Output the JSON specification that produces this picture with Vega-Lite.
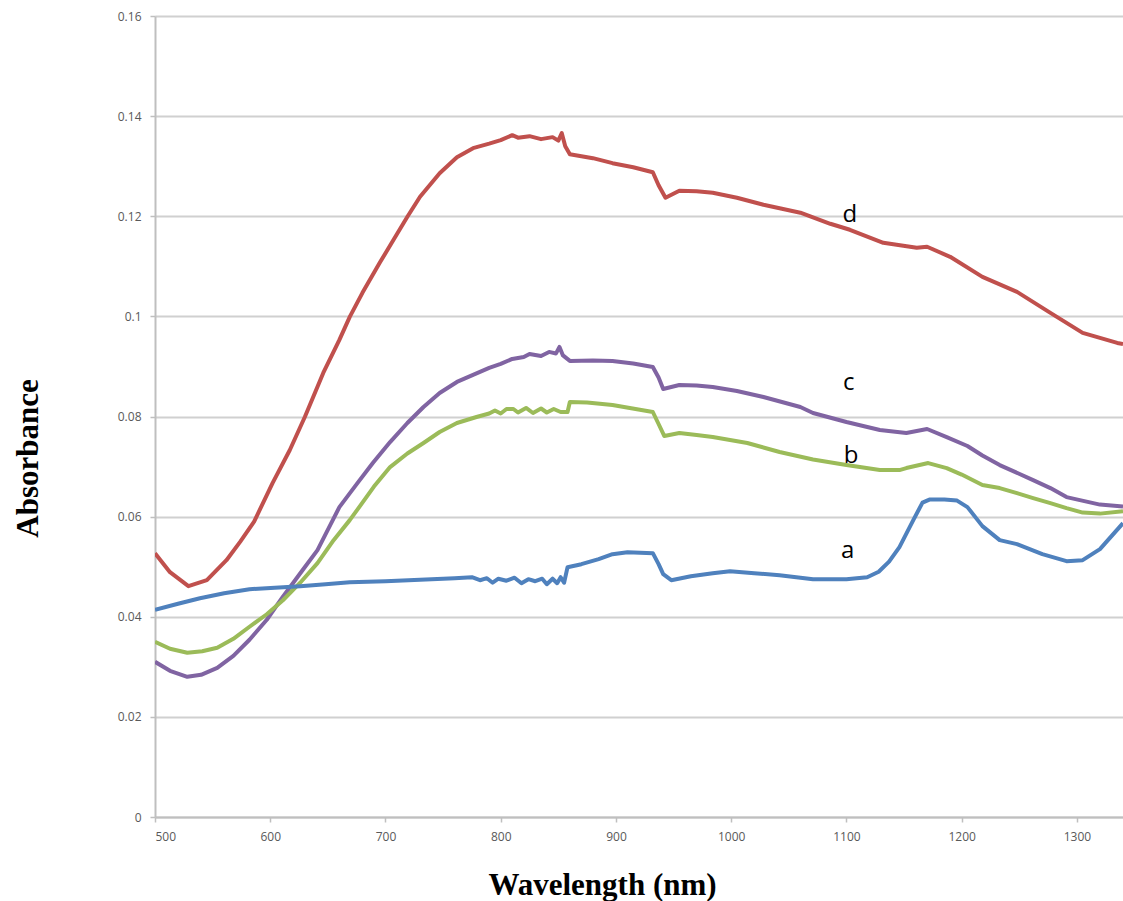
{
  "$schema": "https://vega.github.io/schema/vega-lite/v6.json",
  "width": 968,
  "height": 801,
  "autosize": {"type": "none"},
  "padding": {"left": 155, "top": 16, "right": 0, "bottom": 84},
  "background": "white",
  "config": {"view": {"stroke": null}},
  "datasets": {
    "curves": [
      {"s": "d", "wl": 500, "abs": 0.0527}, {"s": "d", "wl": 513, "abs": 0.0489}, {"s": "d", "wl": 529, "abs": 0.0461}, {"s": "d", "wl": 545, "abs": 0.0473}, {"s": "d", "wl": 562, "abs": 0.0513}, {"s": "d", "wl": 574, "abs": 0.055}, {"s": "d", "wl": 586, "abs": 0.059}, {"s": "d", "wl": 602, "abs": 0.0667}, {"s": "d", "wl": 617, "abs": 0.0733}, {"s": "d", "wl": 630, "abs": 0.0799}, {"s": "d", "wl": 646, "abs": 0.0887}, {"s": "d", "wl": 660, "abs": 0.0953}, {"s": "d", "wl": 669, "abs": 0.0999}, {"s": "d", "wl": 680, "abs": 0.1047}, {"s": "d", "wl": 695, "abs": 0.1107}, {"s": "d", "wl": 707, "abs": 0.1153}, {"s": "d", "wl": 719, "abs": 0.1199}, {"s": "d", "wl": 730, "abs": 0.1239}, {"s": "d", "wl": 747, "abs": 0.1286}, {"s": "d", "wl": 762, "abs": 0.1318}, {"s": "d", "wl": 776, "abs": 0.1336}, {"s": "d", "wl": 790, "abs": 0.1345}, {"s": "d", "wl": 800, "abs": 0.1352}, {"s": "d", "wl": 810, "abs": 0.1362}, {"s": "d", "wl": 815, "abs": 0.1357}, {"s": "d", "wl": 825, "abs": 0.136}, {"s": "d", "wl": 835, "abs": 0.1354}, {"s": "d", "wl": 845, "abs": 0.1358}, {"s": "d", "wl": 850, "abs": 0.1351}, {"s": "d", "wl": 853, "abs": 0.1366}, {"s": "d", "wl": 856, "abs": 0.134}, {"s": "d", "wl": 860, "abs": 0.1324}, {"s": "d", "wl": 880, "abs": 0.1316}, {"s": "d", "wl": 897, "abs": 0.1306}, {"s": "d", "wl": 915, "abs": 0.1298}, {"s": "d", "wl": 932, "abs": 0.1288}, {"s": "d", "wl": 937, "abs": 0.1262}, {"s": "d", "wl": 943, "abs": 0.1237}, {"s": "d", "wl": 955, "abs": 0.1251}, {"s": "d", "wl": 970, "abs": 0.125}, {"s": "d", "wl": 984, "abs": 0.1247}, {"s": "d", "wl": 1005, "abs": 0.1237}, {"s": "d", "wl": 1028, "abs": 0.1223}, {"s": "d", "wl": 1060, "abs": 0.1207}, {"s": "d", "wl": 1086, "abs": 0.1185}, {"s": "d", "wl": 1103, "abs": 0.1173}, {"s": "d", "wl": 1132, "abs": 0.1147}, {"s": "d", "wl": 1161, "abs": 0.1137}, {"s": "d", "wl": 1170, "abs": 0.1139}, {"s": "d", "wl": 1190, "abs": 0.1119}, {"s": "d", "wl": 1218, "abs": 0.1079}, {"s": "d", "wl": 1248, "abs": 0.1049}, {"s": "d", "wl": 1277, "abs": 0.1007}, {"s": "d", "wl": 1305, "abs": 0.0967}, {"s": "d", "wl": 1335, "abs": 0.0947}, {"s": "d", "wl": 1340, "abs": 0.0945},

      {"s": "c", "wl": 500, "abs": 0.031}, {"s": "c", "wl": 513, "abs": 0.0292}, {"s": "c", "wl": 528, "abs": 0.028}, {"s": "c", "wl": 540, "abs": 0.0284}, {"s": "c", "wl": 554, "abs": 0.0298}, {"s": "c", "wl": 568, "abs": 0.0322}, {"s": "c", "wl": 582, "abs": 0.0354}, {"s": "c", "wl": 597, "abs": 0.0394}, {"s": "c", "wl": 611, "abs": 0.044}, {"s": "c", "wl": 628, "abs": 0.0493}, {"s": "c", "wl": 641, "abs": 0.0533}, {"s": "c", "wl": 660, "abs": 0.0619}, {"s": "c", "wl": 675, "abs": 0.0665}, {"s": "c", "wl": 689, "abs": 0.0707}, {"s": "c", "wl": 704, "abs": 0.0749}, {"s": "c", "wl": 719, "abs": 0.0787}, {"s": "c", "wl": 733, "abs": 0.0819}, {"s": "c", "wl": 747, "abs": 0.0847}, {"s": "c", "wl": 762, "abs": 0.0869}, {"s": "c", "wl": 776, "abs": 0.0883}, {"s": "c", "wl": 790, "abs": 0.0897}, {"s": "c", "wl": 800, "abs": 0.0905}, {"s": "c", "wl": 810, "abs": 0.0915}, {"s": "c", "wl": 820, "abs": 0.0919}, {"s": "c", "wl": 825, "abs": 0.0925}, {"s": "c", "wl": 835, "abs": 0.0921}, {"s": "c", "wl": 842, "abs": 0.0929}, {"s": "c", "wl": 848, "abs": 0.0926}, {"s": "c", "wl": 851, "abs": 0.0939}, {"s": "c", "wl": 854, "abs": 0.0922}, {"s": "c", "wl": 860, "abs": 0.0911}, {"s": "c", "wl": 880, "abs": 0.0912}, {"s": "c", "wl": 897, "abs": 0.0911}, {"s": "c", "wl": 915, "abs": 0.0906}, {"s": "c", "wl": 932, "abs": 0.0899}, {"s": "c", "wl": 937, "abs": 0.0878}, {"s": "c", "wl": 941, "abs": 0.0855}, {"s": "c", "wl": 955, "abs": 0.0863}, {"s": "c", "wl": 970, "abs": 0.0862}, {"s": "c", "wl": 984, "abs": 0.0859}, {"s": "c", "wl": 1005, "abs": 0.0851}, {"s": "c", "wl": 1028, "abs": 0.0839}, {"s": "c", "wl": 1060, "abs": 0.0819}, {"s": "c", "wl": 1071, "abs": 0.0807}, {"s": "c", "wl": 1100, "abs": 0.0789}, {"s": "c", "wl": 1129, "abs": 0.0773}, {"s": "c", "wl": 1152, "abs": 0.0767}, {"s": "c", "wl": 1170, "abs": 0.0775}, {"s": "c", "wl": 1187, "abs": 0.0759}, {"s": "c", "wl": 1205, "abs": 0.0741}, {"s": "c", "wl": 1218, "abs": 0.0722}, {"s": "c", "wl": 1233, "abs": 0.0703}, {"s": "c", "wl": 1262, "abs": 0.0673}, {"s": "c", "wl": 1277, "abs": 0.0657}, {"s": "c", "wl": 1291, "abs": 0.0639}, {"s": "c", "wl": 1320, "abs": 0.0624}, {"s": "c", "wl": 1340, "abs": 0.062},

      {"s": "b", "wl": 500, "abs": 0.035}, {"s": "b", "wl": 513, "abs": 0.0336}, {"s": "b", "wl": 528, "abs": 0.0328}, {"s": "b", "wl": 541, "abs": 0.0331}, {"s": "b", "wl": 554, "abs": 0.0338}, {"s": "b", "wl": 568, "abs": 0.0356}, {"s": "b", "wl": 582, "abs": 0.038}, {"s": "b", "wl": 597, "abs": 0.0405}, {"s": "b", "wl": 611, "abs": 0.0433}, {"s": "b", "wl": 626, "abs": 0.0468}, {"s": "b", "wl": 641, "abs": 0.0507}, {"s": "b", "wl": 655, "abs": 0.0553}, {"s": "b", "wl": 669, "abs": 0.0593}, {"s": "b", "wl": 675, "abs": 0.0612}, {"s": "b", "wl": 690, "abs": 0.066}, {"s": "b", "wl": 704, "abs": 0.0699}, {"s": "b", "wl": 719, "abs": 0.0726}, {"s": "b", "wl": 733, "abs": 0.0747}, {"s": "b", "wl": 747, "abs": 0.0769}, {"s": "b", "wl": 762, "abs": 0.0787}, {"s": "b", "wl": 779, "abs": 0.0799}, {"s": "b", "wl": 790, "abs": 0.0806}, {"s": "b", "wl": 795, "abs": 0.0812}, {"s": "b", "wl": 800, "abs": 0.0806}, {"s": "b", "wl": 805, "abs": 0.0815}, {"s": "b", "wl": 811, "abs": 0.0815}, {"s": "b", "wl": 815, "abs": 0.0808}, {"s": "b", "wl": 822, "abs": 0.0817}, {"s": "b", "wl": 828, "abs": 0.0807}, {"s": "b", "wl": 835, "abs": 0.0816}, {"s": "b", "wl": 840, "abs": 0.0808}, {"s": "b", "wl": 846, "abs": 0.0815}, {"s": "b", "wl": 852, "abs": 0.0809}, {"s": "b", "wl": 858, "abs": 0.0809}, {"s": "b", "wl": 860, "abs": 0.0829}, {"s": "b", "wl": 875, "abs": 0.0828}, {"s": "b", "wl": 897, "abs": 0.0823}, {"s": "b", "wl": 912, "abs": 0.0817}, {"s": "b", "wl": 932, "abs": 0.0809}, {"s": "b", "wl": 937, "abs": 0.0785}, {"s": "b", "wl": 942, "abs": 0.0761}, {"s": "b", "wl": 955, "abs": 0.0767}, {"s": "b", "wl": 970, "abs": 0.0763}, {"s": "b", "wl": 984, "abs": 0.0759}, {"s": "b", "wl": 1014, "abs": 0.0747}, {"s": "b", "wl": 1042, "abs": 0.0729}, {"s": "b", "wl": 1071, "abs": 0.0714}, {"s": "b", "wl": 1100, "abs": 0.0703}, {"s": "b", "wl": 1129, "abs": 0.0693}, {"s": "b", "wl": 1146, "abs": 0.0693}, {"s": "b", "wl": 1152, "abs": 0.0697}, {"s": "b", "wl": 1171, "abs": 0.0707}, {"s": "b", "wl": 1187, "abs": 0.0697}, {"s": "b", "wl": 1200, "abs": 0.0684}, {"s": "b", "wl": 1218, "abs": 0.0663}, {"s": "b", "wl": 1233, "abs": 0.0657}, {"s": "b", "wl": 1248, "abs": 0.0647}, {"s": "b", "wl": 1262, "abs": 0.0637}, {"s": "b", "wl": 1277, "abs": 0.0627}, {"s": "b", "wl": 1291, "abs": 0.0617}, {"s": "b", "wl": 1305, "abs": 0.0608}, {"s": "b", "wl": 1320, "abs": 0.0606}, {"s": "b", "wl": 1340, "abs": 0.0611},

      {"s": "a", "wl": 500, "abs": 0.0414}, {"s": "a", "wl": 520, "abs": 0.0426}, {"s": "a", "wl": 539, "abs": 0.0437}, {"s": "a", "wl": 560, "abs": 0.0447}, {"s": "a", "wl": 582, "abs": 0.0455}, {"s": "a", "wl": 604, "abs": 0.0458}, {"s": "a", "wl": 626, "abs": 0.0461}, {"s": "a", "wl": 648, "abs": 0.0465}, {"s": "a", "wl": 669, "abs": 0.0469}, {"s": "a", "wl": 700, "abs": 0.0471}, {"s": "a", "wl": 730, "abs": 0.0474}, {"s": "a", "wl": 760, "abs": 0.0477}, {"s": "a", "wl": 775, "abs": 0.0479}, {"s": "a", "wl": 782, "abs": 0.0473}, {"s": "a", "wl": 788, "abs": 0.0477}, {"s": "a", "wl": 793, "abs": 0.0468}, {"s": "a", "wl": 798, "abs": 0.0476}, {"s": "a", "wl": 805, "abs": 0.0472}, {"s": "a", "wl": 812, "abs": 0.0478}, {"s": "a", "wl": 818, "abs": 0.0467}, {"s": "a", "wl": 824, "abs": 0.0475}, {"s": "a", "wl": 830, "abs": 0.0471}, {"s": "a", "wl": 836, "abs": 0.0476}, {"s": "a", "wl": 840, "abs": 0.0465}, {"s": "a", "wl": 845, "abs": 0.0476}, {"s": "a", "wl": 849, "abs": 0.0467}, {"s": "a", "wl": 852, "abs": 0.0479}, {"s": "a", "wl": 855, "abs": 0.0468}, {"s": "a", "wl": 858, "abs": 0.0499}, {"s": "a", "wl": 870, "abs": 0.0505}, {"s": "a", "wl": 885, "abs": 0.0515}, {"s": "a", "wl": 897, "abs": 0.0525}, {"s": "a", "wl": 910, "abs": 0.0529}, {"s": "a", "wl": 932, "abs": 0.0527}, {"s": "a", "wl": 937, "abs": 0.0505}, {"s": "a", "wl": 941, "abs": 0.0485}, {"s": "a", "wl": 948, "abs": 0.0473}, {"s": "a", "wl": 965, "abs": 0.0481}, {"s": "a", "wl": 984, "abs": 0.0487}, {"s": "a", "wl": 999, "abs": 0.0491}, {"s": "a", "wl": 1020, "abs": 0.0487}, {"s": "a", "wl": 1042, "abs": 0.0483}, {"s": "a", "wl": 1071, "abs": 0.0475}, {"s": "a", "wl": 1100, "abs": 0.0475}, {"s": "a", "wl": 1118, "abs": 0.0479}, {"s": "a", "wl": 1128, "abs": 0.049}, {"s": "a", "wl": 1137, "abs": 0.051}, {"s": "a", "wl": 1146, "abs": 0.0539}, {"s": "a", "wl": 1158, "abs": 0.0593}, {"s": "a", "wl": 1166, "abs": 0.0628}, {"s": "a", "wl": 1172, "abs": 0.0634}, {"s": "a", "wl": 1185, "abs": 0.0634}, {"s": "a", "wl": 1196, "abs": 0.0632}, {"s": "a", "wl": 1205, "abs": 0.0619}, {"s": "a", "wl": 1218, "abs": 0.0581}, {"s": "a", "wl": 1233, "abs": 0.0553}, {"s": "a", "wl": 1248, "abs": 0.0545}, {"s": "a", "wl": 1270, "abs": 0.0525}, {"s": "a", "wl": 1291, "abs": 0.0511}, {"s": "a", "wl": 1305, "abs": 0.0513}, {"s": "a", "wl": 1320, "abs": 0.0535}, {"s": "a", "wl": 1340, "abs": 0.0587}
    ],
    "labels": [
      {"label": "d", "wl": 1103, "abs": 0.1203},
      {"label": "c", "wl": 1102, "abs": 0.0867},
      {"label": "b", "wl": 1104, "abs": 0.0721},
      {"label": "a", "wl": 1101, "abs": 0.0531}
    ]
  },
  "layer": [
    {
      "data": {"name": "curves"},
      "mark": {"type": "line", "strokeWidth": 4, "strokeJoin": "round", "clip": true},
      "encoding": {
        "x": {
          "field": "wl", "type": "quantitative",
          "scale": {"domain": [500, 1340], "nice": false, "zero": false},
          "axis": {
            "title": "Wavelength (nm)",
            "values": [500, 600, 700, 800, 900, 1000, 1100, 1200, 1300],
            "format": "d",
            "grid": false,
            "domainColor": "#bfbfbf", "domainWidth": 2,
            "tickColor": "#bfbfbf", "tickSize": 5, "tickWidth": 1.5,
            "labelFont": "Open Sans", "labelFontSize": 12, "labelColor": "#595959", "labelPadding": 9,
            "titleFont": "Liberation Serif", "titleFontSize": 31, "titleFontWeight": "bold", "titleColor": "#000000",
            "titleX": 447, "titleY": 77, "titleAlign": "center", "titleBaseline": "alphabetic"
          }
        },
        "y": {
          "field": "abs", "type": "quantitative",
          "scale": {"domain": [0, 0.16], "nice": false},
          "axis": {
            "title": "Absorbance",
            "values": [0, 0.02, 0.04, 0.06, 0.08, 0.1, 0.12, 0.14, 0.16],
            "format": "~g",
            "grid": true, "gridColor": "#d0d0d0", "gridWidth": 2,
            "domainColor": "#bfbfbf", "domainWidth": 2,
            "tickColor": "#bfbfbf", "tickSize": 5, "tickWidth": 1.5,
            "labelFont": "Open Sans", "labelFontSize": 12, "labelColor": "#595959", "labelPadding": 9,
            "titleFont": "Liberation Serif", "titleFontSize": 31, "titleFontWeight": "bold", "titleColor": "#000000",
            "titleAngle": -90, "titleX": -118, "titleY": 442, "titleAlign": "center", "titleBaseline": "alphabetic"
          }
        },
        "color": {
          "field": "s", "type": "nominal",
          "scale": {"domain": ["a", "b", "c", "d"], "range": ["#4f81bd", "#9bbb59", "#8064a2", "#c0504d"]},
          "legend": null
        },
        "detail": {"field": "s"}
      }
    },
    {
      "data": {"name": "labels"},
      "mark": {"type": "text", "font": "Open Sans", "fontSize": 24, "color": "#000000", "align": "center", "baseline": "middle"},
      "encoding": {
        "x": {"field": "wl", "type": "quantitative"},
        "y": {"field": "abs", "type": "quantitative"},
        "text": {"field": "label"}
      }
    }
  ]
}
